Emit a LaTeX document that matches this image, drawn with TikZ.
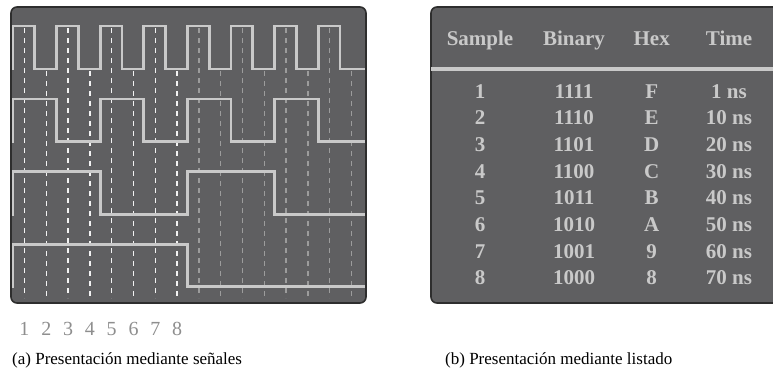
\documentclass[tikz,border=0pt]{standalone}
\usepackage{fontspec}
\setmainfont{Liberation Serif}
\usepackage{tikz}
\definecolor{Panel}{HTML}{5F5F61}
\definecolor{Edge}{HTML}{2E2E2E}
\definecolor{Trace}{HTML}{C9C9C9}
\definecolor{Probe}{HTML}{F2F2F2}
\definecolor{ProbeDim}{HTML}{9C9C9C}
\definecolor{Tick}{HTML}{8E8E8E}
\tikzset{
  panel/.style={fill=Panel,draw=Edge,line width=1.6pt,rounded corners=6pt},
  trace/.style={draw=Trace,line width=2.7pt},
  probe/.style={line width=1.5pt,dash pattern=on 5pt off 5pt},
  headtxt/.style={anchor=base,inner sep=0pt,text=Trace,font=\bfseries\fontsize{21}{25}\selectfont},
  celltxt/.style={anchor=base,inner sep=0pt,text=Trace,font=\bfseries\fontsize{21}{25}\selectfont},
  ticktxt/.style={anchor=base,inner sep=0pt,text=Tick,font=\fontsize{20}{24}\selectfont},
  captxt/.style={anchor=base west,inner sep=0pt,font=\fontsize{17}{20}\selectfont}
}

\begin{document}
\begin{tikzpicture}[x=1pt,y=-1pt]
  \useasboundingbox (0,0) rectangle (773,373);
  \clip (0,0) rectangle (773,373);
  \def\tz{13}
  \def\T{21.8}
  % (a) signal panel
  \draw[panel] (11,7) rectangle (366,303);
  \foreach \k in {1,...,16} {
    \pgfmathsetmacro{\px}{\tz+(\k-0.5)*\T+0.6}
    \pgfmathsetmacro{\ptop}{isodd(\k) ? 28 : 71}
    \ifnum\k<9
      \draw[probe,Probe] (\px,\ptop) -- (\px,298);
    \else
      \draw[probe,ProbeDim] (\px,\ptop) -- (\px,298);
    \fi
  }
  \foreach \hi/\lo/\w in {26/69/1, 99/141.7/2, 171.7/214.3/4, 244.3/286.7/8} {
    \pgfmathtruncatemacro{\ww}{2*\w}
    \pgfmathtruncatemacro{\n}{16/\ww-1}
    \draw[trace] (12,\lo) -- (\tz,\lo)
      \foreach \j in {0,...,\n} {
        -- ({\tz+\j*\ww*\T},\hi) -- ({\tz+(\j*\ww+\w)*\T},\hi)
        -- ({\tz+(\j*\ww+\w)*\T},\lo) -- ({\tz+(\j+1)*\ww*\T},\lo)
      }
      -- (365,\lo);
  }
  \foreach \k in {1,...,8}
    \node[ticktxt] (tick\k) at ({\tz+(\k-0.5)*\T+0.6},335) {\k};
  \node[captxt] (capa) at (12,364.5) {(a) Presentación mediante señales};

  % (b) listing panel
  \draw[panel] (431,7) rectangle (790,303);
  \draw[Trace,line width=4pt] (431,69.3) -- (790,69.3);
  \foreach \c/\x/\head in {1/480/Sample, 2/574/Binary, 3/651.7/Hex, 4/729/Time}
    \node[headtxt] (head\c) at (\x,45) {\head};
  \foreach \r/\bin/\hex/\tim in {1/1111/F/1 ns, 2/1110/E/10 ns, 3/1101/D/20 ns,
      4/1100/C/30 ns, 5/1011/B/40 ns, 6/1010/A/50 ns, 7/1001/9/60 ns, 8/1000/8/70 ns} {
    \pgfmathsetmacro{\yb}{98.3+(\r-1)*26.65}
    \node[celltxt] (sample\r) at (480,\yb) {\r};
    \node[celltxt] (binary\r) at (574,\yb) {\bin};
    \node[celltxt] (hex\r) at (651.7,\yb) {\hex};
    \node[celltxt] (time\r) at (729,\yb) {\tim};
  }
  \node[captxt] (capb) at (445,364.5) {(b) Presentación mediante listado};
\end{tikzpicture}
\end{document}
